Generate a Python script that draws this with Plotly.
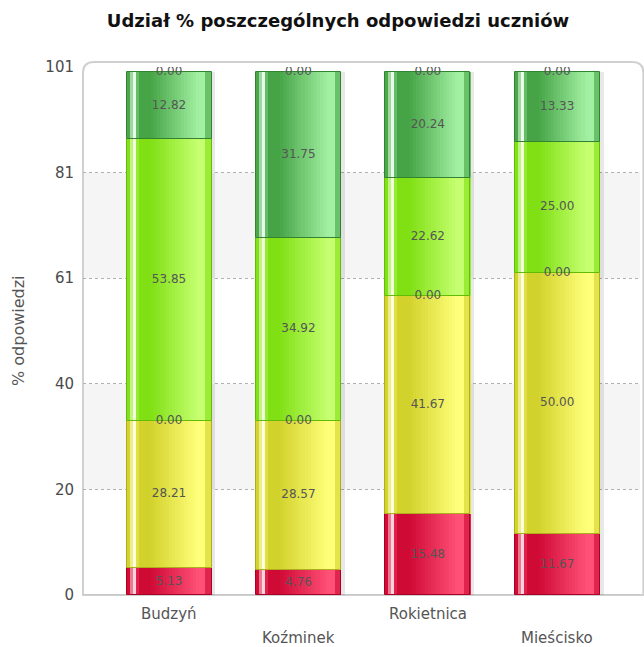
import numpy as np
import plotly.graph_objects as go

categories = ["Budzyń", "Koźminek", "Rokietnica", "Mieścisko"]
s_red = [5.13, 4.76, 15.48, 11.67]
s_yellow = [28.21, 28.57, 41.67, 50.00]
s_zero_a = [0.00, 0.00, 0.00, 0.00]
s_lgreen = [53.85, 34.92, 22.62, 25.00]
s_dgreen = [12.82, 31.75, 20.24, 13.33]
s_zero_b = [0.00, 0.00, 0.00, 0.00]
y_tick_labels = ["0", "20", "40", "61", "81", "101"]
y_max = 101

series = [
    (s_red, ("#c8002c", "#ff5076")),
    (s_yellow, ("#cccc22", "#ffff7a")),
    (s_zero_a, ("#e0a020", "#ffd070")),
    (s_lgreen, ("#76dc08", "#c6ff70")),
    (s_dgreen, ("#3a9a3a", "#a2f0a2")),
    (s_zero_b, ("#3a9a3a", "#a2f0a2")),
]

def hex2rgb(h):
    h = h.lstrip("#")
    return np.array([int(h[i:i + 2], 16) for i in (0, 2, 4)], dtype=float)

def mix(a, b, t):
    return a * (1 - t) + b * t

def rgb(c):
    c = np.clip(c, 0, 255)
    return "rgb(%d,%d,%d)" % tuple(int(round(v)) for v in c)

def profile(f, dark, light):
    white = np.array([255, 255, 255.0])
    if f < 0.04:
        return mix(dark, light, 0.15)
    if f < 0.06:
        return mix(mix(dark, light, 0.4), white, 0.4)
    if f < 0.12:
        return mix(light, white, 0.75)
    if f < 0.15:
        return mix(dark, light, 0.4)
    if f < 0.28:
        return mix(dark, light, 0.12)
    if f < 0.85:
        return mix(dark, light, 0.12 + 0.88 * (f - 0.28) / 0.57)
    if f < 0.94:
        return light
    return mix(dark, light, 0.45)

x = np.arange(len(categories))
bar_w = 0.657
n_strips = 28
strip_w = bar_w / n_strips

fig = go.Figure()

# shadow
totals = np.sum([s[0] for s in series], axis=0)
fig.add_trace(go.Bar(x=x, y=totals, base=0, width=bar_w, offset=-bar_w / 2 + 0.03,
                     marker=dict(color="rgba(0,0,0,0.09)", line=dict(width=0)),
                     hoverinfo="skip", showlegend=False))

cum = np.zeros(len(categories))
label_x, label_y, label_t = [], [], []
for vals, (dk, lt) in series:
    vals = np.array(vals, dtype=float)
    dark, light = hex2rgb(dk), hex2rgb(lt)
    if vals.sum() > 0:
        for k in range(n_strips):
            f = (k + 0.5) / n_strips
            fig.add_trace(go.Bar(
                x=x, y=vals, base=cum, width=strip_w * 1.08,
                offset=-bar_w / 2 + k * strip_w,
                marker=dict(color=rgb(profile(f, dark, light)), line=dict(width=0)),
                hoverinfo="skip", showlegend=False))
        fig.add_trace(go.Bar(
            x=x, y=vals, base=cum, width=bar_w, offset=-bar_w / 2,
            marker=dict(color="rgba(0,0,0,0)", line=dict(width=1, color=rgb(dark * 0.85))),
            hoverinfo="skip", showlegend=False))
    for i in range(len(categories)):
        label_x.append(x[i])
        label_y.append(cum[i] + vals[i] / 2)
        label_t.append("%.2f" % vals[i])
    cum = cum + vals

fig.add_trace(go.Scatter(x=label_x, y=label_y, text=label_t, mode="text",
                         textfont=dict(family="DejaVu Sans", size=12, color="#555555"),
                         hoverinfo="skip", showlegend=False))

tickvals = np.linspace(0, y_max, len(y_tick_labels))

shapes = []
# panel with rounded corners
x0, x1, y0, y1 = 0, 1.006, 0, 1.0095
r_x, r_y = 0.02, 0.02
shapes.append(dict(type="path", xref="paper", yref="paper", layer="below",
                   path=(f"M {x0},{y0} L {x0},{y1 - r_y} Q {x0},{y1} {x0 + r_x},{y1} "
                         f"L {x1 - r_x},{y1} Q {x1},{y1} {x1},{y1 - r_y} L {x1},{y0} Z"),
                   line=dict(color="#d0d0d0", width=2), fillcolor="white"))
# bands
for j in (1, 3):
    shapes.append(dict(type="rect", xref="paper", yref="y", layer="below",
                       x0=0.002, x1=1.0, y0=tickvals[j], y1=tickvals[j + 1],
                       fillcolor="#f5f5f5", line=dict(width=0)))
# bottom line
shapes.append(dict(type="line", xref="paper", yref="y", x0=0, x1=1, y0=0, y1=0,
                   line=dict(color="#c8c8c8", width=2), layer="below"))

annotations = []
for i, c in enumerate(categories):
    annotations.append(dict(x=x[i], xref="x", y=0, yref="y", text=c, showarrow=False,
                            yanchor="top", yshift=-8 - 24 * (i % 2),
                            font=dict(family="DejaVu Sans", size=15, color="#555555")))
annotations.append(dict(x=-65 / 557, xref="paper", y=0.5, yref="paper",
                        text="% odpowiedzi", textangle=-90, showarrow=False,
                        xanchor="center", yanchor="middle",
                        font=dict(family="DejaVu Sans", size=16, color="#555555")))

fig.update_layout(
    width=644, height=647,
    margin=dict(l=83, r=4, t=67, b=52, autoexpand=False),
    paper_bgcolor="white", plot_bgcolor="rgba(0,0,0,0)",
    barmode="overlay",
    bargap=0,
    title=dict(text="<b>Udział % poszczególnych odpowiedzi uczniów</b>",
               x=338 / 644, xref="container", xanchor="center",
               y=1 - 21 / 647, yref="container", yanchor="middle",
               font=dict(family="DejaVu Sans", size=18, color="#111111")),
    xaxis=dict(range=[-0.665, 3.64], showticklabels=False, showgrid=False,
               zeroline=False, showline=False, ticks="", automargin=False),
    yaxis=dict(range=[0, y_max], tickvals=tickvals, ticktext=y_tick_labels,
               showgrid=True, gridcolor="#b0b0b0", griddash="dot", gridwidth=1,
               zeroline=False, showline=False, ticks="", ticklen=0, automargin=False,
               ticklabelstandoff=8,
               tickfont=dict(family="DejaVu Sans", size=15, color="#4a4a4a")),
    shapes=shapes,
    annotations=annotations,
    font=dict(family="DejaVu Sans"),
)

fig.write_html("out.html",
               config={"displayModeBar": False},
               post_script="document.body.style.margin='0';document.body.style.overflow='hidden';")
